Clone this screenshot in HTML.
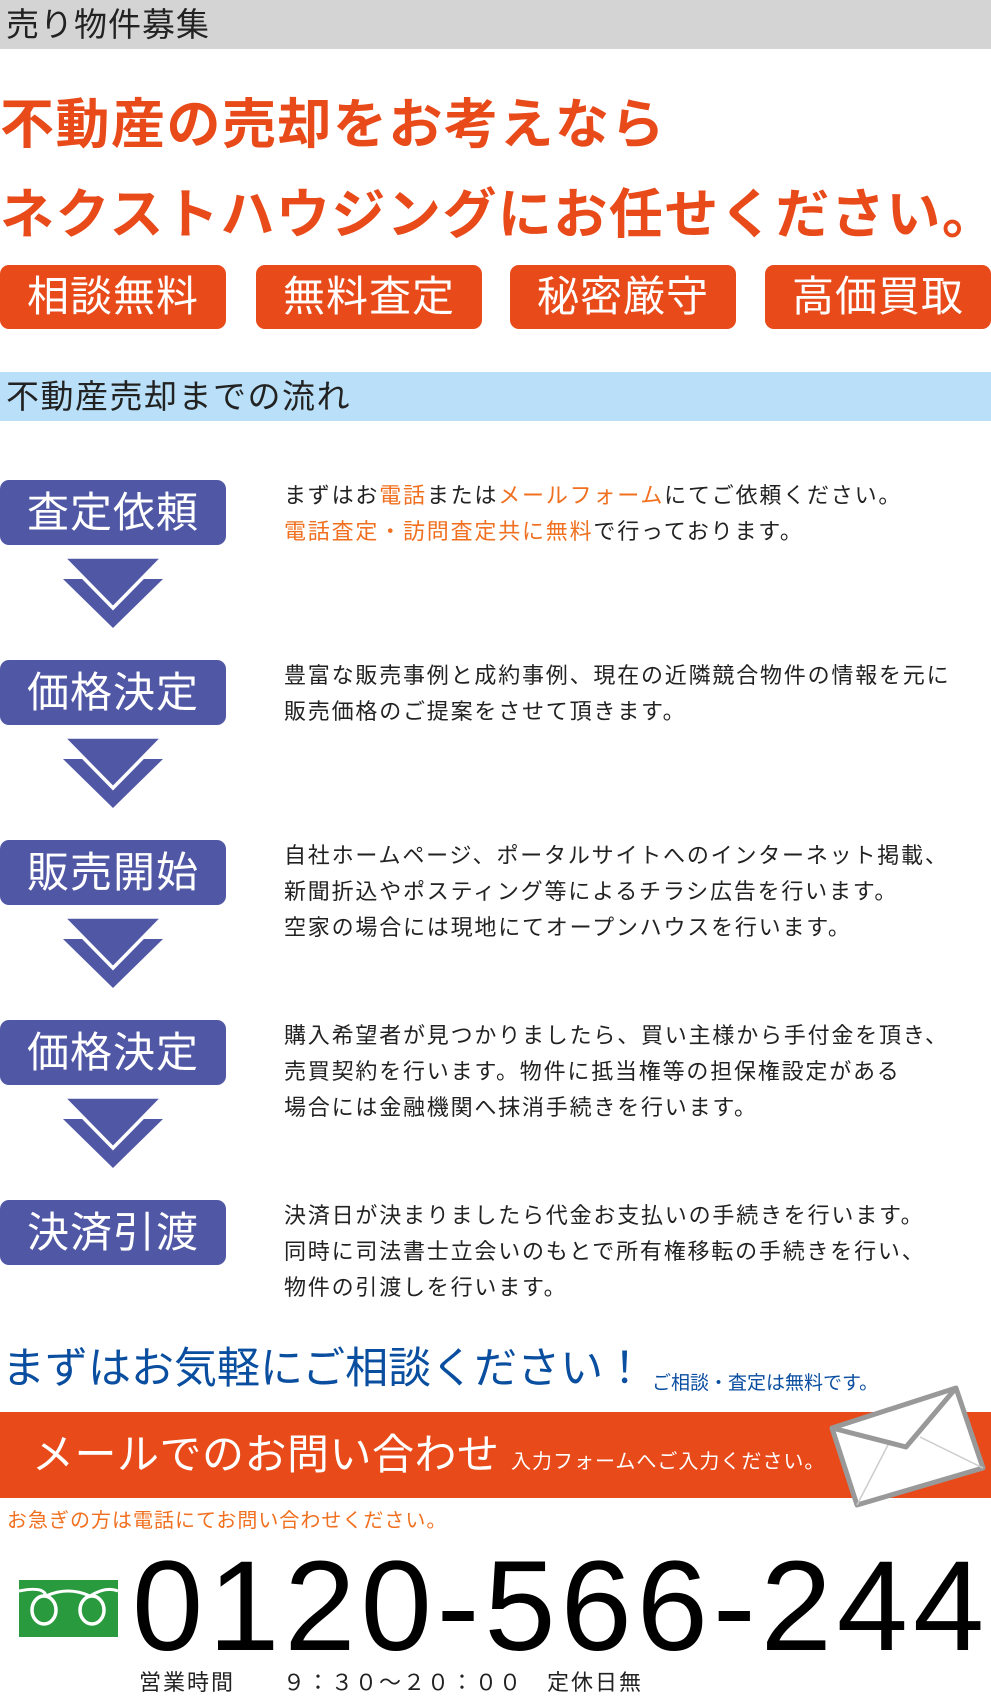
<!DOCTYPE html>
<html><head><meta charset="utf-8"><style>
*{margin:0;padding:0;box-sizing:border-box}
body{width:991px;height:1701px;position:relative;background:#fff;font-family:"Liberation Sans","Noto Sans CJK JP",sans-serif;overflow:hidden}
.a{position:absolute;white-space:nowrap}
.badge{position:absolute;top:265px;width:226px;height:64px;background:#e84a1a;border-radius:9px;color:#fff;font-size:42px;letter-spacing:1px;text-align:center;line-height:64px}
.step{position:absolute;left:0;width:226px;height:65px;background:#5057a5;border-radius:9px;color:#fff;font-size:42px;letter-spacing:1px;text-align:center;line-height:65px}
.txt{position:absolute;left:284px;font-size:22px;letter-spacing:1.8px;line-height:36px;color:#222;white-space:nowrap}
.o{color:#f07020}
</style></head><body>
<div class="a" style="left:0;top:0;width:991px;height:49px;background:#d4d4d4;font-size:33px;line-height:49px;padding-left:6px;color:#222;letter-spacing:1px">売り物件募集</div>
<div class="a" style="left:0;top:92px;font-size:54px;letter-spacing:1.5px;font-weight:bold;color:#e84a1a;line-height:66px">不動産の売却をお考えなら</div>
<div class="a" style="left:0;top:182px;font-size:54px;letter-spacing:1.5px;font-weight:bold;color:#e84a1a;line-height:66px">ネクストハウジングにお任せください。</div>
<div class="badge" style="left:0">相談無料</div>
<div class="badge" style="left:256px">無料査定</div>
<div class="badge" style="left:510px">秘密厳守</div>
<div class="badge" style="left:765px">高価買取</div>
<div class="a" style="left:0;top:372px;width:991px;height:49px;background:#b9e0f8;font-size:33px;line-height:49px;padding-left:6px;color:#222;letter-spacing:1.5px">不動産売却までの流れ</div>

<div class="step" style="top:480px">査定依頼</div>
<div class="step" style="top:660px">価格決定</div>
<div class="step" style="top:840px">販売開始</div>
<div class="step" style="top:1020px">価格決定</div>
<div class="step" style="top:1200px">決済引渡</div>
<svg class="a" style="left:0;top:0" width="991" height="1400">
<g id="ar"><polygon points="63,579 163,579 113,628" fill="#5057a5"/><polygon points="63,557 163,557 113,608" fill="#5057a5" stroke="#fff" stroke-width="3.5" stroke-linejoin="miter"/></g>
<use href="#ar" y="180"/><use href="#ar" y="360"/><use href="#ar" y="540"/>
</svg>

<div class="txt" style="top:478px">まずはお<span class="o">電話</span>または<span class="o">メールフォーム</span>にてご依頼ください。<br><span class="o">電話査定・訪問査定共に無料</span>で行っております。</div>
<div class="txt" style="top:658px">豊富な販売事例と成約事例、現在の近隣競合物件の情報を元に<br>販売価格のご提案をさせて頂きます。</div>
<div class="txt" style="top:838px">自社ホームページ、ポータルサイトへのインターネット掲載、<br>新聞折込やポスティング等によるチラシ広告を行います。<br>空家の場合には現地にてオープンハウスを行います。</div>
<div class="txt" style="top:1018px">購入希望者が見つかりましたら、買い主様から手付金を頂き、<br>売買契約を行います。物件に抵当権等の担保権設定がある<br>場合には金融機関へ抹消手続きを行います。</div>
<div class="txt" style="top:1198px">決済日が決まりましたら代金お支払いの手続きを行います。<br>同時に司法書士立会いのもとで所有権移転の手続きを行い、<br>物件の引渡しを行います。</div>

<div class="a" style="left:2px;top:1342px;font-size:43px;letter-spacing:0px;line-height:54px;color:#0a4ea0">まずはお気軽にご相談ください！</div>
<div class="a" style="left:652px;top:1372px;font-size:19px;line-height:24px;color:#0a4ea0">ご相談・査定は無料です。</div>
<div class="a" style="left:0;top:1412px;width:991px;height:86px;background:#e84a1a"></div>
<div class="a" style="left:32px;top:1428px;font-size:42px;letter-spacing:0.5px;line-height:54px;color:#fff">メールでのお問い合わせ</div>
<div class="a" style="left:511px;top:1448px;font-size:20px;letter-spacing:1px;line-height:28px;color:#fff">入力フォームへご入力ください。</div>
<svg class="a" style="left:0;top:0" width="991" height="1701">
<polygon points="832,1428 956,1388 983,1468 857,1505" fill="#fff" stroke="#999" stroke-width="5" stroke-linejoin="round"/>
<line x1="857" y1="1505" x2="890" y2="1441" stroke="#ccc" stroke-width="1.5"/>
<line x1="983" y1="1468" x2="920" y2="1437" stroke="#ccc" stroke-width="1.5"/>
<polyline points="832,1428 906,1447 956,1388" fill="none" stroke="#999" stroke-width="5" stroke-linejoin="round"/>
<rect x="19" y="1580" width="99" height="57" fill="#2a9a3e"/>
<path d="M19,1591 Q44,1586 46,1596 M46,1596 Q68,1586 90,1596 M90,1596 Q106,1586 118,1591" fill="none" stroke="#fff" stroke-width="3"/>
<ellipse cx="44" cy="1610" rx="12" ry="14" fill="none" stroke="#fff" stroke-width="3.5"/>
<ellipse cx="92" cy="1610" rx="12" ry="14" fill="none" stroke="#fff" stroke-width="3.5"/>
</svg>
<div class="a" style="left:7px;top:1508px;font-size:20px;letter-spacing:1px;line-height:26px;color:#f07020">お急ぎの方は電話にてお問い合わせください。</div>
<div class="a" style="left:132px;top:1542px;font-size:128px;line-height:130px;color:#000;letter-spacing:5px">0120-566-244</div>
<div class="a" style="left:139px;top:1670px;font-size:22px;letter-spacing:2px;line-height:26px;color:#222">営業時間　　９：３０～２０：００　定休日無</div>
</body></html>
